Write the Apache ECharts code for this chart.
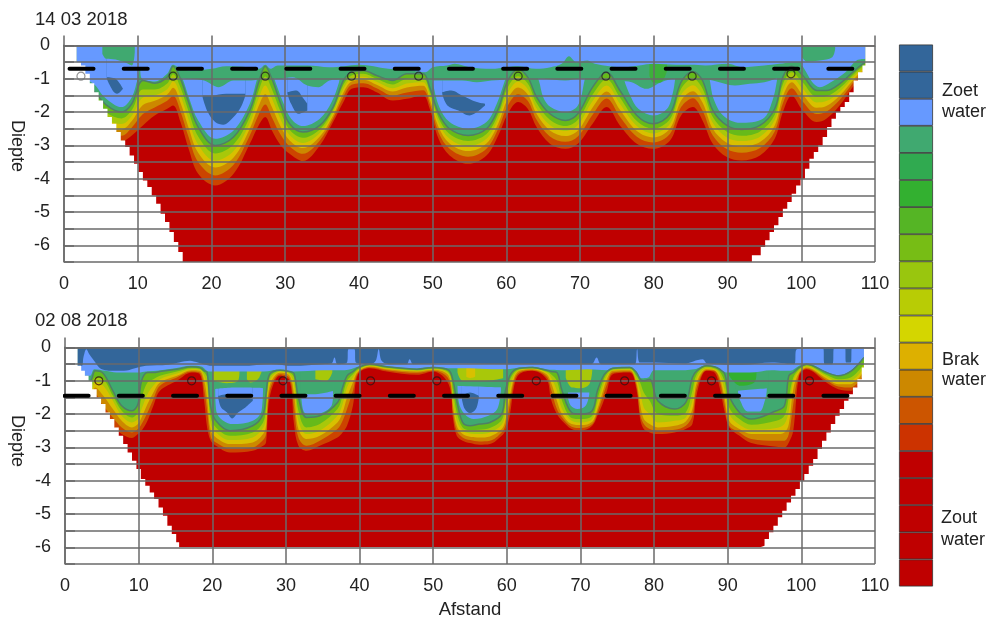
<!DOCTYPE html>
<html><head><meta charset="utf-8"><style>html,body{margin:0;padding:0;background:#fff}#c{width:987px;height:619px}</style>
<script src="https://cdn.jsdelivr.net/npm/echarts@6/dist/echarts.min.js"></script></head><body><div id="c"></div>
<script>
const xTicks=[0,10,20,30,40,50,60,70,80,90,100,110];
const depthTicks=[0,-1,-2,-3,-4,-5,-6];
const legendSteps=[1,1,1,1,1,1,1,1,1,1,1,1,1,1,1,1,1,1,1,1];
const legendColors=['#33669A','#33669A','#6699FF','#40A970','#30AA50','#33B030','#55B525','#77BD15','#99C60E','#B8CC05','#D4D600','#DDB000','#CC8800','#CC5500','#CC3300','#BF0000','#BF0000','#BF0000','#BF0000','#BF0000'];

// ---- 14 03 2018: depth of each colour boundary at the stations topX
const topX=[1.7,3.9,5.8,7.8,9.2,10.7,12.3,14,14.8,15.8,16.9,18.2,20.5,23,25.2,26.4,27.3,28.2,29.4,30.6,32.4,34.7,36.5,37.9,39,40.6,42.4,44.6,46.5,48.7,49.6,50.8,52.3,54.8,57.3,58.9,60.2,61.6,62.9,64.1,65.9,68,69.7,71.7,73.6,75.4,77.7,79.9,82.2,83.7,85.3,86.6,88,89.9,91.9,94.4,96.4,97.5,98.7,100.2,102.1,103.4,105.2,107.5,108.7];
const topF=[-1,-1.34,-1.8,-2,-1.75,-1.05,-1.13,-.95,-.62,-1,-1.7,-2.45,-3,-2.75,-1.95,-1.1,-.62,-1,-1.75,-2.35,-2.6,-2.4,-1.85,-1.05,-.8,-.75,-.9,-1.05,-.85,-.85,-1.25,-2.03,-2.5,-2.7,-2.5,-1.9,-1.05,-.72,-.95,-1.55,-2.05,-2.25,-2.05,-1.25,-.8,-1.35,-2.1,-2.35,-2.05,-1.1,-.78,-1.05,-1.95,-2.4,-2.52,-2.4,-1.9,-.95,-.62,-.9,-1.35,-1.35,-1.15,-.7,-.5];
const topL5=[-1.1,-1.59,-2.03,-2.19,-1.94,-1.32,-1.32,-1.14,-.86,-1.26,-1.98,-2.73,-3.24,-2.97,-2.15,-1.36,-.93,-1.31,-2,-2.53,-2.77,-2.52,-1.94,-1.18,-.9,-.85,-1,-1.17,-1,-.98,-1.38,-2.18,-2.66,-2.87,-2.66,-2.06,-1.25,-.92,-1.14,-1.73,-2.23,-2.42,-2.23,-1.47,-1.01,-1.56,-2.27,-2.5,-2.21,-1.3,-.99,-1.29,-2.15,-2.59,-2.71,-2.58,-2.08,-1.16,-.8,-1.11,-1.54,-1.52,-1.28,-.78,-.58];
const topL4=[-1.19,-1.82,-2.24,-2.36,-2.11,-1.56,-1.5,-1.31,-1.07,-1.49,-2.23,-2.98,-3.46,-3.17,-2.33,-1.59,-1.2,-1.59,-2.23,-2.69,-2.93,-2.63,-2.02,-1.3,-.99,-.94,-1.09,-1.28,-1.14,-1.1,-1.5,-2.32,-2.8,-3.02,-2.8,-2.2,-1.43,-1.09,-1.31,-1.89,-2.39,-2.57,-2.39,-1.67,-1.2,-1.75,-2.42,-2.64,-2.35,-1.48,-1.19,-1.51,-2.33,-2.76,-2.87,-2.74,-2.24,-1.35,-.95,-1.3,-1.71,-1.67,-1.4,-.85,-.65];
const topL3=[-1.28,-2.03,-2.43,-2.52,-2.27,-1.79,-1.66,-1.47,-1.27,-1.72,-2.47,-3.22,-3.66,-3.36,-2.5,-1.82,-1.46,-1.85,-2.44,-2.85,-3.08,-2.73,-2.1,-1.41,-1.08,-1.03,-1.18,-1.38,-1.26,-1.21,-1.61,-2.45,-2.94,-3.17,-2.94,-2.34,-1.6,-1.26,-1.47,-2.05,-2.55,-2.72,-2.55,-1.86,-1.38,-1.93,-2.57,-2.76,-2.49,-1.65,-1.37,-1.71,-2.5,-2.92,-3.03,-2.9,-2.4,-1.53,-1.1,-1.48,-1.87,-1.82,-1.51,-.92,-.72];
const topL2=[-1.38,-2.29,-2.66,-2.71,-2.46,-2.06,-1.86,-1.66,-1.51,-1.98,-2.75,-3.5,-3.9,-3.58,-2.7,-2.08,-1.77,-2.16,-2.69,-3.03,-3.25,-2.85,-2.19,-1.54,-1.18,-1.13,-1.28,-1.5,-1.41,-1.34,-1.74,-2.61,-3.1,-3.34,-3.1,-2.5,-1.8,-1.46,-1.66,-2.23,-2.73,-2.89,-2.73,-2.08,-1.59,-2.14,-2.74,-2.91,-2.65,-1.85,-1.58,-1.95,-2.7,-3.11,-3.22,-3.08,-2.58,-1.74,-1.28,-1.69,-2.06,-1.99,-1.64,-1,-.8];
const topL1=[-1.5,-2.6,-2.95,-2.9,-2.7,-2.4,-2.1,-1.9,-1.8,-2.3,-3.1,-3.85,-4.2,-3.85,-2.95,-2.4,-2.15,-2.55,-3,-3.25,-3.47,-3,-2.3,-1.7,-1.3,-1.25,-1.4,-1.65,-1.6,-1.5,-1.9,-2.8,-3.3,-3.55,-3.3,-2.7,-2.05,-1.7,-1.9,-2.45,-2.95,-3.1,-2.95,-2.35,-1.85,-2.4,-2.95,-3.1,-2.85,-2.1,-1.85,-2.25,-2.95,-3.35,-3.45,-3.3,-2.8,-2,-1.5,-1.95,-2.3,-2.2,-1.8,-1.1,-.9];
const topPocket=[[1.7,-.9],[4,-1.15],[5.5,-1.55],[7.8,-1.85],[9.2,-1.55],[10,-1],[10.6,-.6],[15,-.55],[16,-.95],[17,-1.6],[18.2,-2.25],[20.5,-2.8],[23,-2.55],[25.2,-1.75],[26.2,-1],[26.8,-.6],[27.8,-.6],[28.6,-1.05],[29.7,-1.7],[30.8,-2.2],[32.4,-2.42],[34.7,-2.2],[36.3,-1.7],[37.3,-1.1],[37.9,-.6],[49.5,-.6],[50,-1.1],[50.9,-1.85],[52.3,-2.3],[54.8,-2.5],[57.3,-2.3],[58.7,-1.75],[59.8,-1.05],[60.5,-.6],[63.5,-.6],[64.4,-1.05],[65,-1.55],[66,-1.85],[68,-2],[69.7,-1.8],[70.6,-1.05],[71,-.6],[75.5,-.6],[76,-1.05],[76.8,-1.5],[77.9,-1.9],[80,-2.1],[81.8,-1.9],[82.6,-1.4],[82.9,-1],[83.2,-.6],[87.2,-.6],[87.6,-1.05],[88.1,-1.6],[89.4,-2.1],[91.7,-2.32],[94.8,-2.2],[96.1,-1.65],[96.7,-1.05],[97,-.6],[100,-.6],[100.4,-.7],[101.5,-1.1],[102.5,-1.25],[104,-1.1],[106,-.8],[107.5,-.45],[108.7,-.4]];
const topBlobLow1=[[5.8,-1],[6.6,-1.35],[7.2,-1.45],[8,-1.3]];
const topBlobUp1=[[5.8,-.95],[7,-1],[8,-1.3]];
const topBlobLow2=[[18.8,-1.55],[19.5,-2],[20.5,-2.3],[21.6,-2.38],[23,-2.15],[24,-1.85],[24.6,-1.5]];
const topBlobUp2=[[18.8,-1.5],[20,-1.5],[22,-1.45],[24.6,-1.45]];
const topBlobLow3=[[30.3,-1.45],[30.8,-1.75],[31.8,-2.05],[33,-1.95]];
const topBlobUp3=[[30.3,-1.4],[31.5,-1.35],[32.5,-1.6],[33,-1.75]];
const topBlobLow4=[[51.3,-1.45],[52,-1.8],[53.5,-1.95],[55,-2.1],[56,-2],[57.1,-1.8]];
const topBlobUp4=[[51.3,-1.4],[52.5,-1.35],[54,-1.5],[56,-1.7],[57.1,-1.75]];
const topLid=[[14.2,-.85],[14.8,-.62],[15.8,-.95],[17,-1],[19,-1.05],[21,-1.25],[23,-1.05],[25,-1.05],[26.4,-1],[27.3,-.62],[28.2,-.95],[29,-1],[31,-.95],[33,-1.2],[34.5,-1.25],[36,-1.05],[37.9,-1],[39,-.8],[40.6,-.75],[42.4,-.9],[44.6,-1.05],[46.5,-.85],[48.7,-.85],[49.6,-1.05],[52,-1.05],[54,-1.05],[56,-1.1],[58,-1.05],[60.2,-1],[61.6,-.72],[62.9,-.95],[65,-1],[68,-1.05],[70,-1],[71.7,-1],[73.6,-.8],[75.4,-1.05],[77,-1.1],[79,-1.3],[81,-1.1],[83,-1],[83.7,-1],[85.3,-.78],[86.6,-1],[88,-1.05],[91,-1.2],[93,-1.15],[95,-1.1],[96.5,-1],[97.5,-.9],[98.7,-.62],[100,-.8]];
const topBright=[[79.4,-.9],[80,-1.12],[81,-1.1],[81.8,-.75]];
const topBlue=[[1.7,-.4],[10,-.5],[10.6,-1],[12.3,-1.08],[14,-.85],[14.8,-.58],[16,-.72],[18,-.75],[20,-.7],[22,-.62],[25,-.65],[26.5,-.7],[27.3,-.58],[28,-.7],[29,-.6],[33,-.6],[36,-.65],[38,-.62],[40,-.58],[44,-.7],[47,-.75],[49,-.8],[50,-.65],[52,-.6],[53,-.55],[55,-.65],[58,-.7],[60,-.65],[61.6,-.62],[64,-.7],[66,-.65],[67.5,-.55],[68.5,-.32],[69.5,-.5],[71,-.45],[72,-.55],[74,-.62],[76,-.65],[78,-.6],[80,-.55],[83,-.58],[85,-.58],[87,-.6],[90,-.55],[92,-.65],[95,-.6],[97,-.55],[99,-.5],[100,-.5],[108.7,-.4]];
const topCap1=[[5.2,-.25],[5.7,-.4],[7,-.42],[8.4,-.52],[9.2,-.6],[9.6,-.2]];
const topCap2=[[100.1,-.35],[100.8,-.48],[102.5,-.45],[104.2,-.35],[104.6,-.1]];
const topEdge=[[0,0],[1.7,-.5],[2.3,-.6],[2.9,-.85],[3.5,-1.13],[4.1,-1.4],[4.7,-1.65],[5.3,-1.9],[5.9,-2.15],[6.5,-2.35],[7.1,-2.6],[7.7,-2.85],[8.3,-3.05],[8.9,-3.3],[9.5,-3.55],[10.1,-3.8],[10.7,-4.05],[11.3,-4.25],[11.9,-4.5],[12.5,-4.75],[13.1,-5.05],[13.7,-5.3],[14.3,-5.6],[14.9,-5.9],[15.5,-6.2],[16.1,-6.5],[93.3,-6.3],[93.9,-6.3],[94.5,-6.05],[95.1,-5.85],[95.7,-5.6],[96.3,-5.4],[96.9,-5.15],[97.5,-4.9],[98.1,-4.7],[98.7,-4.45],[99.3,-4.2],[99.9,-4],[100.5,-3.7],[101.1,-3.4],[101.7,-3.2],[102.3,-3],[102.9,-2.75],[103.5,-2.45],[104.1,-2.2],[104.7,-2],[105.3,-1.85],[105.9,-1.7],[106.5,-1.4],[107.1,-1.05],[107.7,-.8],[108.3,-.6],[108.7,0],[110,0]];
const topDash=[[.75,-.7],[107.05,-.7]];
const topCircles=[[14.8,-.92],[27.3,-.92],[39,-.92],[48.1,-.92],[61.6,-.92],[73.5,-.92],[85.2,-.92],[98.6,-.85]];
const topCircleOpen=[[2.3,-.92]];

// ---- 02 08 2018
const botX=[1.7,3.4,4.1,5.2,6.5,7.7,9.1,9.9,10.4,11.2,12,12.9,15.2,17.2,18.3,18.9,19.3,19.8,20.5,22.4,25.5,26.9,27.3,27.8,29.2,30.5,31.1,31.7,32.8,34.6,37,37.7,38.3,39.1,39.8,41.4,43.7,47.8,50,52.1,52.7,53.2,54,55,56.3,57.7,59.3,59.8,60.4,61,61.7,63.5,65.4,66,66.8,67.5,68.8,70.1,71.6,72.3,73,73.6,74.4,76.7,77.6,78.1,78.6,79.4,80.5,82.8,84.3,85.2,85.8,87.1,88.2,88.9,89.6,90.2,91.6,93.2,96.6,97.7,98.3,98.9,99.7,100.7,103.4,105,106.7,108.5];
const botF=[-1,-1,-.7,-.78,-1.3,-1.75,-1.9,-1.7,-1,-.75,-.75,-.72,-.65,-.58,-.6,-.7,-.75,-1.8,-2.2,-2.5,-2.35,-2,-1.4,-.8,-.68,-.72,-.78,-1.5,-2.1,-2.05,-1.65,-1.2,-.85,-.72,-.6,-.5,-.58,-.65,-.6,-.68,-1,-1.6,-2.25,-2.35,-2.3,-2.25,-2,-1.3,-.85,-.68,-.62,-.6,-.68,-.72,-.75,-1.3,-1.95,-2,-1.9,-1.3,-.9,-.72,-.62,-.6,-.75,-.95,-1,-.95,-1.6,-1.85,-1.65,-.9,-.7,-.55,-.58,-.65,-.8,-1.45,-1.95,-2.15,-1.9,-1.75,-.85,-.75,-.6,-.5,-.75,-.85,-.72,-.3];
const botL5=[-1.2,-1.2,-.9,-.95,-1.45,-1.9,-2.1,-1.95,-1.5,-1.05,-.95,-.85,-.72,-.62,-.64,-.75,-.9,-2.1,-2.4,-2.65,-2.55,-2.25,-1.8,-.9,-.7,-.76,-.9,-1.9,-2.4,-2.3,-1.85,-1.45,-1,-.8,-.65,-.53,-.61,-.68,-.63,-.75,-1.3,-1.95,-2.4,-2.48,-2.47,-2.42,-2.18,-1.7,-1,-.75,-.65,-.62,-.72,-.8,-1,-1.6,-2.12,-2.15,-2.05,-1.55,-1.05,-.78,-.65,-.63,-.85,-1.05,-1.35,-1.6,-2,-2.05,-1.95,-1.3,-.8,-.58,-.62,-.72,-1.05,-1.8,-2.15,-2.32,-2.2,-2.05,-1.5,-.9,-.65,-.53,-.82,-.95,-.9,-.5];
const botL4=[-1.3,-1.35,-1.05,-1.15,-1.6,-2.05,-2.25,-2.15,-1.85,-1.4,-1.15,-.95,-.78,-.65,-.67,-.85,-1.2,-2.3,-2.55,-2.78,-2.7,-2.42,-2.1,-1,-.73,-.8,-1.1,-2.2,-2.6,-2.5,-2.05,-1.7,-1.2,-.9,-.68,-.55,-.63,-.7,-.65,-.8,-1.55,-2.2,-2.5,-2.58,-2.6,-2.55,-2.32,-2,-1.25,-.82,-.68,-.64,-.75,-.9,-1.3,-1.85,-2.2,-2.25,-2.15,-1.7,-1.2,-.85,-.68,-.66,-.95,-1.3,-1.8,-2,-2.25,-2.2,-2.1,-1.6,-.92,-.62,-.65,-.8,-1.3,-2,-2.32,-2.47,-2.42,-2.3,-1.9,-1,-.7,-.57,-.87,-1.02,-1,-.6];
const botL3=[-1.4,-1.5,-1.2,-1.45,-1.85,-2.2,-2.4,-2.3,-2.1,-1.7,-1.35,-1.05,-.85,-.68,-.7,-1,-1.55,-2.5,-2.7,-2.9,-2.85,-2.6,-2.35,-1.15,-.76,-.85,-1.4,-2.45,-2.75,-2.65,-2.25,-1.95,-1.5,-1.05,-.72,-.57,-.65,-.72,-.67,-.85,-1.75,-2.35,-2.6,-2.68,-2.7,-2.67,-2.45,-2.2,-1.5,-.9,-.7,-.65,-.8,-1.05,-1.6,-2,-2.3,-2.33,-2.23,-1.85,-1.35,-.95,-.7,-.68,-1.05,-1.7,-2.15,-2.3,-2.4,-2.35,-2.22,-1.85,-1.05,-.65,-.68,-.9,-1.55,-2.2,-2.45,-2.6,-2.6,-2.55,-2.3,-1.25,-.75,-.6,-.92,-1.1,-1.1,-.7];
const botL2=[-1.5,-1.65,-1.4,-1.75,-2.1,-2.4,-2.55,-2.45,-2.3,-1.95,-1.55,-1.15,-.9,-.72,-.75,-1.25,-1.9,-2.7,-2.85,-3.03,-3,-2.78,-2.6,-1.3,-.8,-.92,-1.8,-2.7,-2.95,-2.8,-2.45,-2.2,-1.85,-1.3,-.76,-.6,-.68,-.76,-.7,-.95,-1.95,-2.5,-2.7,-2.78,-2.82,-2.8,-2.55,-2.35,-1.75,-1,-.75,-.68,-.87,-1.25,-1.85,-2.1,-2.38,-2.42,-2.3,-1.95,-1.5,-1.1,-.75,-.72,-1.15,-2,-2.3,-2.45,-2.5,-2.47,-2.35,-2.05,-1.2,-.68,-.7,-1,-1.75,-2.35,-2.55,-2.75,-2.8,-2.8,-2.6,-1.7,-.8,-.63,-.98,-1.17,-1.2,-.8];
const botL1=[-1.6,-1.8,-1.7,-2.05,-2.35,-2.6,-2.72,-2.6,-2.5,-2.2,-1.75,-1.3,-1,-.75,-.8,-1.6,-2.4,-2.8,-2.95,-3.15,-3.1,-2.95,-2.85,-1.5,-.85,-1,-2.3,-2.95,-3.1,-2.95,-2.7,-2.55,-2.35,-1.75,-.8,-.62,-.72,-.82,-.72,-1.1,-2.15,-2.65,-2.8,-2.87,-2.92,-2.9,-2.65,-2.5,-2.05,-1.15,-.8,-.7,-.95,-1.55,-2,-2.2,-2.45,-2.5,-2.35,-2.05,-1.7,-1.3,-.8,-.75,-1.25,-2.15,-2.45,-2.55,-2.6,-2.55,-2.45,-2.3,-1.4,-.7,-.75,-1.2,-1.95,-2.4,-2.65,-2.87,-2.98,-3,-2.85,-2.5,-.85,-.65,-1.05,-1.25,-1.3,-.9];
const botPocket1=[[20.4,-1.25],[20.6,-1.95],[22.8,-2.3],[25.5,-2.2],[26.7,-1.9],[26.9,-1.2]];
const botPocket2=[[32.1,-1.5],[32.5,-1.95],[33.5,-2],[35,-1.95],[36.2,-1.75],[36.4,-1.45]];
const botPocket3=[[53.3,-1.2],[53.6,-1.75],[54.5,-2.05],[55.5,-2.15],[57.5,-2.05],[58.7,-1.85],[59.2,-1.3]];
const botPocket4=[[68.3,-1.5],[68.7,-1.75],[69.6,-1.85],[70.7,-1.75],[71.2,-1.4]];
const botPocket5=[[91.4,-1.35],[91.7,-1.6],[92.7,-1.92],[94.3,-1.92],[95.1,-1.55],[95.3,-1.3]];
const botBlobLow1=[[20.8,-1.5],[21.2,-1.8],[22,-1.95],[22.7,-2.13],[23.5,-1.95],[24.5,-1.8],[25.5,-1.6]];
const botBlobUp1=[[20.8,-1.45],[22,-1.4],[24,-1.45],[25.5,-1.55]];
const botBlobLow2=[[53.9,-1.55],[54.3,-1.85],[55,-1.97],[55.8,-1.85],[56.2,-1.5]];
const botBlobUp2=[[53.9,-1.45],[55,-1.35],[56.2,-1.45]];
const botLid1=[[20.1,-1.25],[23,-1.2],[27,-1.22]];
const botLid2=[[32,-1.4],[34,-1.4],[36.5,-1.3]];
const botLid3=[[53,-1.15],[59.4,-1.2]];
const botLid4=[[68,-1.35],[71.4,-1.35]];
const botLid5=[[91,-1.3],[95.5,-1.22]];
const botLime1=[[20.1,-1],[22,-1.07],[23.5,-1],[23.7,-.72]];
const botLime2=[[24.7,-.95],[25.2,-1.05],[26.2,-.95],[26.7,-.72]];
const botLime3=[[34,-.95],[35.5,-1],[36.3,-.75]];
const botLime4=[[53.3,-.75],[54,-1],[56,-1],[58,-.98],[59.5,-.92]];
const botLime5=[[68,-.9],[68.8,-1.2],[70,-1.22],[71.2,-1.1],[71.6,-.7]];
const botBright=[[90,-.78],[91.7,-1.15],[93.6,-1.05],[93.9,-.78]];
const botYellow=[[54.5,-.88],[55,-.92],[55.7,-.88]];
const botLight=[[1.7,-.75],[2.5,-.85],[3.4,-.85],[4,-.65],[5.5,-.7],[7,-.75],[10,-.75],[11,-.72],[13,-.68],[15,-.62],[17,-.55],[18.5,-.57],[19.5,-.72],[20,-.72],[24,-.72],[27,-.72],[29.2,-.66],[31,-.72],[35,-.68],[38,-.68],[39.8,-.58],[41.4,-.48],[43.7,-.56],[47.8,-.63],[50,-.58],[52,-.62],[55,-.62],[58,-.65],[60,-.65],[61.7,-.6],[63.5,-.58],[65.5,-.66],[68,-.68],[71,-.65],[73.6,-.68],[74.4,-.6],[76.7,-.58],[77.6,-.73],[78.3,-.92],[79.2,-.9],[80,-.68],[83,-.68],[85.5,-.65],[87.1,-.53],[88.2,-.56],[90,-.75],[93,-.75],[96,-.68],[97.5,-.7],[98.5,-.7],[99.7,-.55],[100.7,-.48],[103.4,-.73],[105,-.83],[106.7,-.7],[108.5,-.28]];
const botDark=[[1.7,-.55],[2.3,-.55],[2.5,-.3],[2.9,-.05],[3.3,-.2],[3.8,-.35],[5,-.65],[7,-.7],[8,-.7],[9.5,-.62],[11,-.55],[14,-.52],[17,-.4],[17.5,-.42],[20,-.55],[24,-.55],[28,-.5],[31,-.55],[35,-.5],[36.2,-.48],[36.6,-.3],[37,-.5],[38.3,-.45],[38.5,-.05],[39.3,-.05],[39.5,-.45],[41.5,-.5],[42.2,-.4],[42.6,-.05],[43,-.4],[44,-.5],[46.4,-.5],[46.8,-.35],[47.3,-.5],[52,-.48],[60,-.5],[66,-.5],[71.5,-.5],[72.2,-.3],[72.8,-.5],[77.4,-.5],[77.7,-.05],[78.1,-.45],[80,-.45],[84,-.48],[86.6,-.35],[87.2,-.48],[92,-.52],[96,-.45],[99,-.5],[99.4,-.05],[102.9,0],[103.2,-.5],[104.2,-.5],[104.5,0],[105.9,0],[106.1,-.45],[106.7,-.45],[106.9,0],[108.5,0]];
const botEdge=[[0,0],[1.7,-.55],[2.2,-.7],[2.7,-.85],[3.2,-1],[3.7,-1.25],[4.3,-1.5],[4.9,-1.7],[5.5,-1.95],[6.1,-2.15],[6.7,-2.4],[7.3,-2.65],[7.9,-2.9],[8.5,-3.15],[9.1,-3.4],[9.7,-3.65],[10.3,-3.95],[10.9,-4.15],[11.5,-4.35],[12.1,-4.55],[12.7,-4.8],[13.3,-5.05],[13.9,-5.35],[14.5,-5.6],[15.1,-5.85],[15.5,-6],[94.4,-5.95],[95,-5.75],[95.6,-5.55],[96.2,-5.35],[96.8,-5.1],[97.4,-4.9],[98,-4.65],[98.6,-4.45],[99.2,-4.25],[99.8,-4],[100.4,-3.8],[101,-3.55],[101.6,-3.35],[102.2,-3.05],[102.8,-2.8],[103.4,-2.55],[104,-2.3],[104.6,-2.05],[105.2,-1.85],[105.8,-1.6],[106.4,-1.4],[107,-1.2],[107.6,-.95],[108.2,-.6],[108.5,0],[110,0]];
const botDash=[[-.05,-1.45],[106.6,-1.45]];
const botCircles=[[4.6,-1],[17.2,-1],[29.6,-1],[41.5,-1],[50.5,-1],[64,-1],[76,-1],[87.8,-1],[101.1,-1]];

const FONT='"Liberation Sans",Arial,sans-serif', INK='#222', GRID='#6a6a6a';
const RED='#BF0000', C1='#CC4400', C2='#CC8800', C3='#D8C000', C4='#A8C80A', C5='#66BA1A', GREEN='#40A970', LIGHT='#6699FF', DARK='#33669A';
const SMOOTH=0.35;
const zip=(xs,ys)=>xs.map((x,i)=>[x,ys[i]]);

const series=[];
function area(g,pts,color,smooth){
  series.push({type:'line',xAxisIndex:g,yAxisIndex:g,data:pts,symbol:'none',silent:true,animation:false,
    smooth:smooth===false?false:SMOOTH,lineStyle:{width:0},areaStyle:{color,opacity:1},z:2});
}
function contour(g,pts){
  series.push({type:'line',xAxisIndex:g,yAxisIndex:g,data:pts,symbol:'none',silent:true,animation:false,
    smooth:SMOOTH,lineStyle:{color:'#4f7f66',width:1.5},z:3});
}
function mask(g,pts){
  series.push({type:'line',xAxisIndex:g,yAxisIndex:g,data:pts,symbol:'none',silent:true,animation:false,step:'end',
    lineStyle:{width:0},areaStyle:{color:'#fff',opacity:1,origin:'start'},z:4});
}
function dash(g,pts){
  series.push({type:'line',xAxisIndex:g,yAxisIndex:g,data:pts,symbol:'none',silent:true,animation:false,clip:false,
    lineStyle:{color:'#000',width:4,type:[24,30.2],cap:'round'},z:12});
}
function rings(g,pts,col){
  series.push({type:'scatter',xAxisIndex:g,yAxisIndex:g,data:pts,symbol:'circle',symbolSize:8,silent:true,animation:false,
    itemStyle:{color:'rgba(0,0,0,0)',borderColor:col,borderWidth:1.2},z:12});
}
// whole-number depth ticks on the left of a panel
function leftTicks(g){
  const data=[];
  depthTicks.forEach(v=>data.push([-1.22,v],[0,v],['-','-']));
  series.push({type:'line',xAxisIndex:g,yAxisIndex:g,data,symbol:'none',silent:true,animation:false,clip:false,
    lineStyle:{color:GRID,width:1.5},z:6});
}
// top panel
area(0,[[0,-6.5],[110,-6.5]],RED,false);
[[topL1,C1],[topL2,C2],[topL3,C3],[topL4,C4],[topL5,C5],[topF,GREEN]].forEach(([a,c])=>area(0,zip(topX,a),c));
area(0,topPocket,LIGHT);
[[topBlobLow1,topBlobUp1],[topBlobLow2,topBlobUp2],[topBlobLow3,topBlobUp3],[topBlobLow4,topBlobUp4]].forEach(([l,u])=>{area(0,l,DARK);area(0,u,LIGHT);});
area(0,topLid,GREEN);
area(0,topBright,'#3DB03A');
area(0,topBlue,LIGHT);
area(0,topCap1,GREEN);
area(0,topCap2,GREEN);
contour(0,zip(topX,topF));
mask(0,topEdge);
leftTicks(0);
dash(0,topDash);
rings(0,topCircles,'#222');
rings(0,topCircleOpen,'#777');
// bottom panel
area(1,[[0,-6],[110,-6]],RED,false);
[[botL1,C1],[botL2,C2],[botL3,C3],[botL4,C4],[botL5,C5],[botF,GREEN]].forEach(([a,c])=>area(1,zip(botX,a),c));
[botPocket1,botPocket2,botPocket3,botPocket4,botPocket5].forEach(p=>area(1,p,LIGHT));
[[botBlobLow1,botBlobUp1],[botBlobLow2,botBlobUp2]].forEach(([l,u])=>{area(1,l,DARK);area(1,u,LIGHT);});
[botLid1,botLid2,botLid3,botLid4,botLid5].forEach(p=>area(1,p,GREEN));
[botLime1,botLime2,botLime3,botLime4,botLime5].forEach(p=>area(1,p,C4));
area(1,botYellow,C3);
area(1,botBright,'#33B030');
area(1,botLight,LIGHT);
area(1,botDark,DARK);
contour(1,zip(botX,botF));
mask(1,botEdge);
leftTicks(1);
dash(1,botDash);
rings(1,botCircles,'#331111');
// colour scale
legendSteps.forEach((v,i)=>series.push({type:'bar',xAxisIndex:4,yAxisIndex:4,stack:'scale',data:[v],barWidth:'100%',silent:true,animation:false,
  itemStyle:{color:legendColors[i],borderColor:'#333',borderWidth:0.8}}));

const line={lineStyle:{color:GRID,width:1.5}};
function xAxes(g){return [
  {type:'value',gridIndex:g,min:0,max:110,interval:10,position:'bottom',z:5,
   axisLine:{show:true,...line},axisTick:{show:false},splitLine:{show:true,...line},
   axisLabel:{margin:13,fontFamily:FONT,fontSize:18,color:INK,customValues:xTicks}},
  {type:'value',gridIndex:g,min:0,max:110,interval:10,position:'top',z:5,
   axisLine:{show:false},axisTick:{show:true,length:10,...line},splitLine:{show:false},axisLabel:{show:false}}];}
function yAxes(g){return [
  {type:'value',gridIndex:g,min:-6.5,max:0,interval:.5,position:'left',z:5,
   axisLine:{show:true,...line},axisTick:{show:false},
   splitLine:{show:true,...line},
   axisLabel:{margin:14,fontFamily:FONT,fontSize:18,color:INK,customValues:depthTicks}},
  {type:'value',gridIndex:g,min:-6.5,max:0,interval:.5,position:'right',z:5,
   axisLine:{show:false},axisTick:{show:true,length:10,...line},splitLine:{show:false},axisLabel:{show:false}}];}
const X0=xAxes(0),X1=xAxes(1),Y0=yAxes(0),Y1=yAxes(1);
const txt=(t,x,y,o)=>({type:'text',x,y,z:20,rotation:(o&&o.rot)||0,style:{text:t,font:`${(o&&o.size)||18}px ${FONT}`,fill:INK,textAlign:(o&&o.align)||'left',textVerticalAlign:'middle'}});
const chart=echarts.init(document.getElementById('c'),null,{renderer:'canvas'});
chart.setOption({
  animation:false,backgroundColor:'#fff',
  grid:[{left:64,top:45.5,width:811,height:216.5},{left:65,top:347.5,width:810,height:216.5},{left:899,top:44.5,width:34,height:542}],
  // main axes first, then the tick-only ones, then the scale bar's
  xAxis:[X0[0],X1[0],X0[1],X1[1],{type:'category',gridIndex:2,data:['s'],show:false}],
  yAxis:[Y0[0],Y1[0],Y0[1],Y1[1],{type:'value',gridIndex:2,min:0,max:20,inverse:true,show:false}],
  series:series.concat([
    {type:'line',xAxisIndex:2,yAxisIndex:2,data:[],silent:true},{type:'line',xAxisIndex:3,yAxisIndex:3,data:[],silent:true}]),
  graphic:[
    txt('14 03 2018',35,20,{size:18.5}),txt('02 08 2018',35,321,{size:18.5}),
    txt('Diepte',17,146,{rot:-Math.PI/2,align:'center'}),txt('Diepte',17,441,{rot:-Math.PI/2,align:'center'}),
    txt('Afstand',470,610,{align:'center',size:18.5}),
    txt('Zoet',942,91),txt('water',942,112),txt('Brak',942,360),txt('water',942,380),txt('Zout',941,518),txt('water',941,540)
  ]
});
</script></body></html>
